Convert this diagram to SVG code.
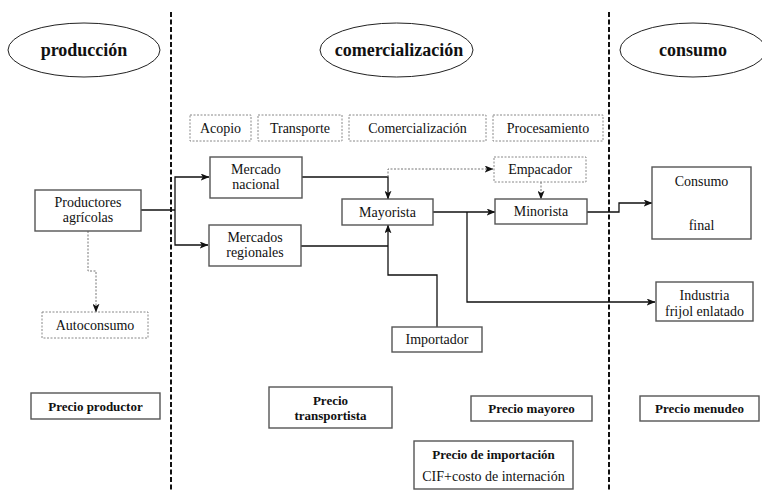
<svg xmlns="http://www.w3.org/2000/svg" width="762" height="491" viewBox="0 0 762 491">
<style>
text{font-family:"Liberation Serif","DejaVu Serif",serif;fill:#111;text-anchor:middle}
.t{font-size:14px}
.b{font-size:13px;font-weight:bold}
.h{font-size:18px;font-weight:bold}
.box{fill:#fff;stroke:#555;stroke-width:1.4}
.dbox{fill:#fff;stroke:#888;stroke-width:1;stroke-dasharray:2 1.5}
.ell{fill:#fff;stroke:#222;stroke-width:1}
.sep{stroke:#111;stroke-width:2;stroke-dasharray:5 2.5;fill:none}
.c{fill:none;stroke:#111;stroke-width:1.3}
.cd{fill:none;stroke:#777;stroke-width:1;stroke-dasharray:2 1.5}
</style>
<defs>
<marker id="ar" viewBox="0 0 10 8" refX="9.5" refY="4" markerWidth="9" markerHeight="7" markerUnits="userSpaceOnUse" orient="auto">
<path d="M0,0 L10,4 L0,8 L2.5,4 Z" fill="#111"/>
</marker>
</defs>
<rect width="762" height="491" fill="#fff"/>
<line class="sep" x1="171" y1="12" x2="171" y2="491"/>
<line class="sep" x1="609" y1="12" x2="609" y2="491"/>

<g id="connectors">
<polyline class="c" points="141,210 175,210"/>
<polyline class="c" points="175,210 175,177 209,177" marker-end="url(#ar)"/>
<polyline class="c" points="175,210 175,245 208,245" marker-end="url(#ar)"/>
<polyline class="c" points="302,177 388,177 388,199" marker-end="url(#ar)"/>
<polyline class="cd" points="388,177 388,169 493,169" marker-end="url(#ar)"/>
<polyline class="cd" points="541,182 541,199" marker-end="url(#ar)"/>
<polyline class="c" points="433,212 495,212" marker-end="url(#ar)"/>
<polyline class="c" points="467,212 467,302 655,302" marker-end="url(#ar)"/>
<polyline class="c" points="301,246 388,246"/>
<polyline class="c" points="437,327 437,275 388,275 388,225" marker-end="url(#ar)"/>
<polyline class="c" points="587,212 619,212 619,203 652,203" marker-end="url(#ar)"/>
<polyline class="cd" points="88,231 88,271 96,271 96,312" marker-end="url(#ar)"/>
</g>

<g id="produccion"><ellipse class="ell" cx="84" cy="50" rx="76" ry="27"/><text class="h" x="84" y="56">producción</text></g>
<g id="comercializacion"><ellipse class="ell" cx="396.5" cy="50" rx="76.5" ry="27"/><text class="h" x="399" y="56">comercialización</text></g>
<g id="consumo"><ellipse class="ell" cx="693" cy="50" rx="73" ry="27"/><text class="h" x="693" y="56">consumo</text></g>

<g id="acopio"><rect class="dbox" x="190" y="115" width="61" height="26"/><text class="t" x="220.5" y="133">Acopio</text></g>
<g id="transporte"><rect class="dbox" x="258" y="115" width="84" height="26"/><text class="t" x="300" y="133">Transporte</text></g>
<g id="comercializacion-box"><rect class="dbox" x="349" y="115" width="137" height="26"/><text class="t" x="417.5" y="133">Comercialización</text></g>
<g id="procesamiento"><rect class="dbox" x="493" y="115" width="110" height="26"/><text class="t" x="548" y="133">Procesamiento</text></g>

<g id="productores"><rect class="box" x="35" y="190" width="106" height="41"/><text class="t" x="88" y="207">Productores</text><text class="t" x="88" y="222">agrícolas</text></g>
<g id="mercado-nacional"><rect class="box" x="210" y="157" width="92" height="41"/><text class="t" x="256" y="174">Mercado</text><text class="t" x="256" y="189">nacional</text></g>
<g id="mercados-regionales"><rect class="box" x="209" y="225" width="92" height="41"/><text class="t" x="255" y="242">Mercados</text><text class="t" x="255" y="257">regionales</text></g>
<g id="mayorista"><rect class="box" x="342" y="199" width="91" height="26"/><text class="t" x="387.5" y="216.5">Mayorista</text></g>
<g id="empacador"><rect class="dbox" x="494" y="157" width="92" height="25"/><text class="t" x="540" y="174">Empacador</text></g>
<g id="minorista"><rect class="box" x="495" y="199" width="92" height="25"/><text class="t" x="541" y="216">Minorista</text></g>
<g id="importador"><rect class="box" x="392" y="327" width="90" height="25"/><text class="t" x="437" y="344">Importador</text></g>
<g id="autoconsumo"><rect class="dbox" x="42" y="312" width="106" height="26"/><text class="t" x="95" y="329.5">Autoconsumo</text></g>
<g id="consumo-final"><rect class="box" x="652" y="167" width="99" height="72"/><text class="t" x="701.5" y="186">Consumo</text><text class="t" x="701.5" y="230">final</text></g>
<g id="industria"><rect class="box" x="656" y="282" width="97" height="39"/><text class="t" x="704.5" y="300">Industria</text><text class="t" x="704.5" y="316">frijol enlatado</text></g>

<g id="precio-productor"><rect class="box" x="31" y="393" width="129" height="26"/><text class="b" x="95.5" y="410.5">Precio productor</text></g>
<g id="precio-transportista"><rect class="box" x="269" y="387" width="123" height="41"/><text class="b" x="330.5" y="405">Precio</text><text class="b" x="330.5" y="420">transportista</text></g>
<g id="precio-mayoreo"><rect class="box" x="471" y="396" width="121" height="25"/><text class="b" x="531.5" y="413">Precio mayoreo</text></g>
<g id="precio-menudeo"><rect class="box" x="640" y="396" width="119" height="25"/><text class="b" x="699.5" y="413">Precio menudeo</text></g>
<g id="precio-importacion"><rect class="box" x="414" y="441" width="159" height="48"/><text class="b" x="493.5" y="459">Precio de importación</text><text class="t" x="493.5" y="481">CIF+costo de internación</text></g>
</svg>
